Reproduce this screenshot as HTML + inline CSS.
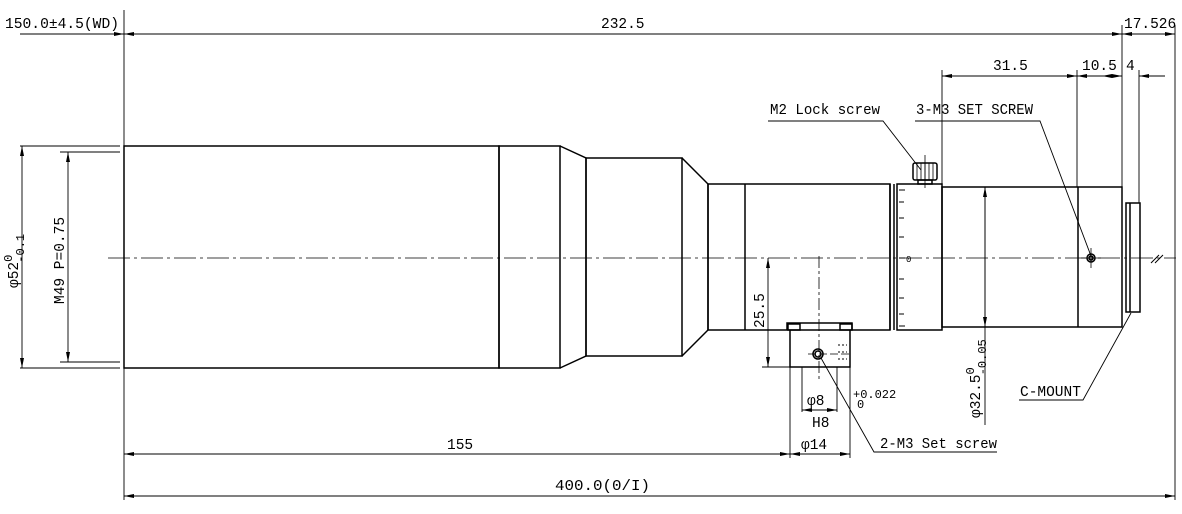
<!DOCTYPE html>
<html><head><meta charset="utf-8"><style>
html,body{margin:0;padding:0;background:#fff;}
svg{display:block;}
text{font-family:"Liberation Mono","Noto Sans CJK JP",monospace;font-size:14.5px;fill:#000;}
</style></head><body>
<svg width="1182" height="514" viewBox="0 0 1182 514" xmlns="http://www.w3.org/2000/svg">
<defs>
<marker id="a" viewBox="0 0 10 4" refX="10" refY="2" markerWidth="10" markerHeight="4" orient="auto-start-reverse" markerUnits="userSpaceOnUse"><path d="M0,0L10,2L0,4z" fill="#000"/></marker>
</defs>
<g stroke="#000" fill="none" stroke-width="1.5">
<rect x="124" y="146" width="375" height="222"/>
<rect x="499" y="146" width="61" height="222"/>
<path d="M560,146L586,158L586,356L560,368"/>
<rect x="586" y="158" width="96" height="198"/>
<path d="M682,158L708,184L708,330L682,356"/>
<rect x="708" y="184" width="182" height="146"/>
<line x1="745" y1="184" x2="745" y2="330"/>
<line x1="890" y1="184" x2="890" y2="330"/><line x1="894" y1="184" x2="894" y2="330"/>
<rect x="897" y="184" width="45" height="146"/>
<rect x="942" y="187" width="180" height="140"/>
<line x1="1078" y1="187" x2="1078" y2="327"/>
<rect x="1126" y="203" width="14" height="109"/>
<line x1="1130" y1="203" x2="1130" y2="312"/>
<rect x="913" y="163" width="24" height="17" rx="2"/>
<path d="M917,163v17M921,163v17M925,163v17M929,163v17M933,163v17" stroke-width="0.8"/>
<rect x="918" y="180" width="14" height="4"/>
<path d="M787,330L787,323L852,323L852,330M790,330V367H850V330"/>
<rect x="788" y="324" width="12" height="6"/><rect x="840" y="324" width="12" height="6"/>
<circle cx="818" cy="354" r="5"/><circle cx="818" cy="354" r="3"/>
<path d="M838,345h9M838,352h9M838,359h9" stroke-dasharray="2 2" stroke-width="1"/>
<path d="M899,190h6M899,202h5M899,218h5M899,237h5M899,258h6M899,279h5M899,298h5M899,314h5M899,326h6" stroke-width="1"/>
<circle cx="1091" cy="258" r="4"/><circle cx="1091" cy="258" r="2"/>
<path d="M1151,263l8,-8M1155,263l8,-8" stroke-width="1"/>
</g>
<g stroke="#000" stroke-width="0.8" fill="none">
<line x1="108" y1="258" x2="1176" y2="258" stroke-dasharray="22 4 3 4"/>
<line x1="819" y1="256" x2="819" y2="380" stroke-dasharray="12 3 3 3"/>
<line x1="925" y1="155" x2="925" y2="188"/>
<line x1="1091" y1="248" x2="1091" y2="268"/><line x1="1081" y1="258" x2="1101" y2="258"/>
<line x1="808" y1="354" x2="850" y2="354" stroke-dasharray="8 3"/>
</g>
<g stroke="#000" stroke-width="0.9" fill="none">
<line x1="124" y1="10" x2="124" y2="500"/>
<line x1="20" y1="34" x2="124" y2="34" marker-end="url(#a)"/>
<line x1="124" y1="34" x2="1122" y2="34" marker-start="url(#a)" marker-end="url(#a)"/>
<line x1="1122" y1="34" x2="1175" y2="34" marker-start="url(#a)" marker-end="url(#a)"/>
<line x1="1122" y1="25" x2="1122" y2="203"/>
<line x1="1175" y1="25" x2="1175" y2="500"/>
<line x1="942" y1="70" x2="942" y2="187"/>
<line x1="1077" y1="70" x2="1077" y2="187"/>
<line x1="1139" y1="70" x2="1139" y2="203"/>
<line x1="942" y1="76" x2="1077" y2="76" marker-start="url(#a)" marker-end="url(#a)"/>
<line x1="1077" y1="76" x2="1122" y2="76" marker-start="url(#a)" marker-end="url(#a)"/>
<line x1="1122" y1="76" x2="1102" y2="76" marker-end="url(#a)"/>
<line x1="1165" y1="76" x2="1139" y2="76" marker-end="url(#a)"/>
<line x1="20" y1="146" x2="120" y2="146"/><line x1="20" y1="368" x2="120" y2="368"/>
<line x1="22" y1="146" x2="22" y2="368" marker-start="url(#a)" marker-end="url(#a)"/>
<line x1="60" y1="152" x2="120" y2="152"/><line x1="60" y1="362" x2="120" y2="362"/>
<line x1="68" y1="152" x2="68" y2="362" marker-start="url(#a)" marker-end="url(#a)"/>
<line x1="762" y1="367" x2="790" y2="367"/>
<line x1="768" y1="258" x2="768" y2="367" marker-start="url(#a)" marker-end="url(#a)"/>
<line x1="985" y1="187" x2="985" y2="425" />
<line x1="985" y1="187" x2="985" y2="327" marker-start="url(#a)" marker-end="url(#a)"/>
<line x1="790" y1="367" x2="790" y2="458"/><line x1="850" y1="367" x2="850" y2="458"/>
<line x1="802" y1="367" x2="802" y2="412"/><line x1="837" y1="367" x2="837" y2="412"/>
<line x1="802" y1="410" x2="837" y2="410" marker-start="url(#a)" marker-end="url(#a)"/>
<line x1="124" y1="454" x2="790" y2="454" marker-start="url(#a)" marker-end="url(#a)"/>
<line x1="790" y1="454" x2="850" y2="454" marker-start="url(#a)" marker-end="url(#a)"/>
<line x1="124" y1="496" x2="1175" y2="496" marker-start="url(#a)" marker-end="url(#a)"/>
<polyline points="768,121 883,121 921,170"/>
<polyline points="915,121 1040,121 1091,256"/>
<polyline points="1019,400 1083,400 1131,313"/>
<polyline points="997,452 874,452 821,358"/>
</g>
<g>
<text x="5" y="28" textLength="114" lengthAdjust="spacingAndGlyphs">150.0±4.5(WD)</text>
<text x="601" y="28">232.5</text>
<text x="1124" y="28">17.526</text>
<text x="993" y="70">31.5</text>
<text x="1082" y="70">10.5</text>
<text x="1126" y="70">4</text>
<text x="770" y="114" textLength="110" lengthAdjust="spacingAndGlyphs">M2 Lock screw</text>
<text x="916" y="114" textLength="117" lengthAdjust="spacingAndGlyphs">3-M3 SET SCREW</text>
<text x="1020" y="396">C-MOUNT</text>
<text x="880" y="448" textLength="117" lengthAdjust="spacingAndGlyphs">2-M3 Set screw</text>
<text x="807" y="405">φ8</text>
<text x="853" y="398" style="font-size:12px">+0.022</text>
<text x="857" y="408" style="font-size:12px">0</text>
<text x="812" y="427">H8</text>
<text x="801" y="449">φ14</text>
<text x="447" y="449">155</text>
<text x="555" y="490" textLength="95" lengthAdjust="spacingAndGlyphs">400.0(0/I)</text>
<text x="906" y="262" style="font-size:9px">0</text>
<text transform="translate(764,328) rotate(-90)">25.5</text>
<text transform="translate(980,418) rotate(-90)">φ32.5<tspan dy="-6" style="font-size:12px">0</tspan><tspan dx="-8" dy="12" style="font-size:12px">-0.05</tspan></text>
<text transform="translate(18,288) rotate(-90)">φ52<tspan dy="-6" style="font-size:12px">0</tspan><tspan dx="-8" dy="12" style="font-size:12px">-0.1</tspan></text>
<text transform="translate(64,304) rotate(-90)">M49 P=0.75</text>
</g>
</svg>
</body></html>
